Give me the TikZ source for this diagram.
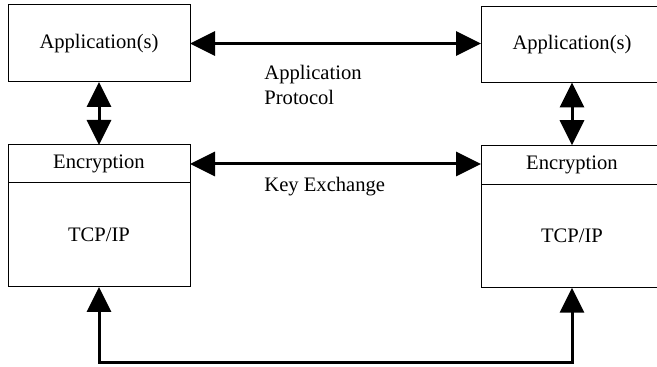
\documentclass[tikz,border=0pt]{standalone}
\usepackage{fontspec}
\setmainfont{Liberation Serif}
\usetikzlibrary{arrows.meta}
\begin{document}
\begin{tikzpicture}[x=0.5pt,y=-0.5pt,
  box/.style={draw,line width=0.5pt,minimum width=91pt,inner sep=0pt,outer sep=0pt,font=\fontsize{10.3}{12.5}\selectfont},
  lbl/.style={inner sep=0pt,font=\fontsize{10.3}{12.5}\selectfont},
  link/.style={line width=1.5pt,{Triangle[length=12.5pt,width=12pt]}-{Triangle[length=12.5pt,width=12pt]}}]
\useasboundingbox (0,0) rectangle (657,367);
\node[box,minimum height=38.5pt] (lapp) at (99,43.5) {Application(s)};
\node[box,minimum height=19pt] (lenc) at (99,164) {Encryption};
\node[box,minimum height=52pt] (ltcp) at (99,235) {TCP/IP};
\node[box,minimum height=38pt] (rapp) at (572,44.5) {Application(s)};
\node[box,minimum height=19.5pt] (renc) at (572,164.75) {Encryption};
\node[box,minimum height=51.5pt] (rtcp) at (572,236.25) {TCP/IP};
\draw[link] (lapp.east) -- (rapp.west |- lapp.east);
\draw[link] (lenc.east) -- (renc.west |- lenc.east);
\draw[link] (lapp.south) -- (lenc.north);
\draw[link] (rapp.south) -- (renc.north);
\coordinate (bot) at (335,363);
\draw[link] (ltcp.south) |- (bot) -| (rtcp.south);
\node[lbl,align=left,anchor=west] (ap) at (264,85) {Application\\Protocol};
\node[lbl,anchor=west] (ke) at (264,187) {Key Exchange};
\end{tikzpicture}
\end{document}
